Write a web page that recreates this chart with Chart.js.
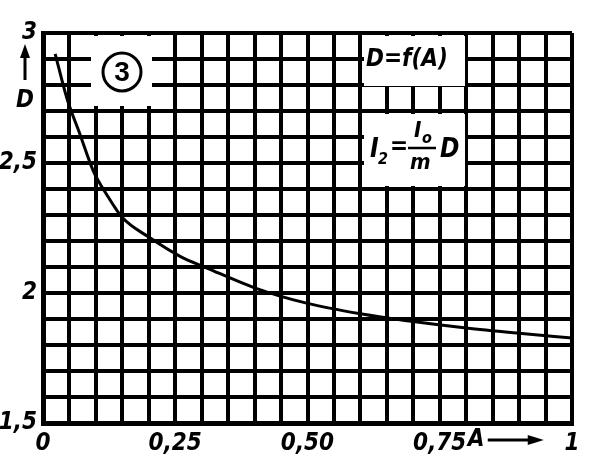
<!DOCTYPE html>
<html>
<head>
<meta charset="utf-8">
<script src="https://cdn.jsdelivr.net/npm/chart.js@4/dist/chart.umd.min.js"></script>
<style>
  html, body { margin: 0; padding: 0; background: #fff; }
  #wrap { width: 592px; height: 464px; position: relative; }
</style>
</head>
<body>
<div id="wrap"><canvas id="c"></canvas></div>
<script>
"use strict";

// D = f(A)
const A_VALUES = [0.023, 0.045, 0.07, 0.095, 0.12, 0.15, 0.2, 0.26, 0.31, 0.4, 0.5, 0.6, 0.7, 0.8, 0.9, 1.0];
const D_VALUES = [2.92, 2.75, 2.61, 2.47, 2.38, 2.29, 2.215, 2.14, 2.096, 2.02, 1.96, 1.92, 1.89, 1.865, 1.845, 1.827];

const X_TICKS = [[0, "0"], [0.25, "0,25"], [0.5, "0,50"], [0.75, "0,75"], [1, "1"]];
const Y_TICKS = [[1.5, "1,5"], [2, "2"], [2.5, "2,5"], [3, "3"]];

const INK = "#000";
const FONT = "'Liberation Sans Narrow', 'DejaVu Sans Condensed', sans-serif";

const pickLabel = (list) => (v) => {
  const hit = list.find(([t]) => Math.abs(t - v) < 1e-6);
  return hit ? hit[1] : "";
};

// white patches where the grid was left blank for the captions
const blanks = {
  id: "blanks",
  beforeDatasetsDraw(chart) {
    const ctx = chart.ctx;
    ctx.save();
    ctx.fillStyle = "#fff";
    ctx.fillRect(91, 36, 61, 70);
    ctx.fillRect(364, 36, 101, 50);
    ctx.fillRect(364, 114, 101, 72);
    ctx.restore();
  },
};

const captions = {
  id: "captions",
  afterDraw(chart) {
    const ctx = chart.ctx;
    const x = chart.scales.x;
    ctx.save();
    ctx.fillStyle = INK;
    ctx.strokeStyle = INK;

    // circled 3
    ctx.lineWidth = 3;
    ctx.beginPath();
    ctx.arc(122, 72, 19, 0, Math.PI * 2);
    ctx.stroke();
    ctx.font = "bold 28px 'Liberation Sans', sans-serif";
    ctx.textAlign = "center";
    ctx.textBaseline = "middle";
    ctx.fillText("3", 122, 73);

    // axis name D with arrow
    ctx.font = "italic bold 24px " + FONT;
    ctx.fillText("D", 25, 101);
    ctx.lineWidth = 3;
    ctx.beginPath();
    ctx.moveTo(25, 80);
    ctx.lineTo(25, 50);
    ctx.stroke();
    ctx.beginPath();
    ctx.moveTo(25, 44);
    ctx.lineTo(20, 58);
    ctx.lineTo(30, 58);
    ctx.closePath();
    ctx.fill();

    // A with arrow after 0,75
    const ay = chart.chartArea.bottom + 17;
    ctx.textAlign = "left";
    ctx.fillText("A", x.getPixelForValue(0.75) + 28, ay);
    ctx.lineWidth = 3;
    ctx.beginPath();
    ctx.moveTo(x.getPixelForValue(0.75) + 48, ay);
    ctx.lineTo(x.getPixelForValue(0.75) + 92, ay);
    ctx.stroke();
    ctx.beginPath();
    ctx.moveTo(x.getPixelForValue(0.75) + 104, ay);
    ctx.lineTo(x.getPixelForValue(0.75) + 88, ay - 5);
    ctx.lineTo(x.getPixelForValue(0.75) + 88, ay + 5);
    ctx.closePath();
    ctx.fill();

    // D=f(A)
    ctx.font = "italic bold 24px " + FONT;
    ctx.textAlign = "left";
    ctx.fillText("D=f(A)", 366, 60);

    // I2 = I0 / m D
    ctx.font = "italic bold 26px " + FONT;
    ctx.fillText("I", 370, 150);
    ctx.font = "italic bold 16px " + FONT;
    ctx.fillText("2", 378, 160);
    ctx.font = "italic bold 24px " + FONT;
    ctx.fillText("=", 390, 148);
    ctx.font = "italic bold 22px " + FONT;
    ctx.fillText("I", 414, 131);
    ctx.font = "italic bold 16px " + FONT;
    ctx.fillText("o", 422, 139);
    ctx.lineWidth = 2.5;
    ctx.beginPath();
    ctx.moveTo(408, 148);
    ctx.lineTo(436, 148);
    ctx.stroke();
    ctx.font = "italic bold 22px " + FONT;
    ctx.fillText("m", 410, 163);
    ctx.font = "italic bold 26px " + FONT;
    ctx.fillText("D", 440, 150);
    ctx.restore();
  },
};

const points = A_VALUES.map((a, i) => ({ x: a, y: D_VALUES[i] }));

new Chart(document.getElementById("c"), {
  type: "line",
  data: {
    datasets: [
      {
        data: points,
        borderColor: INK,
        borderWidth: 3,
        pointRadius: 0,
        fill: false,
        cubicInterpolationMode: "monotone",
      },
    ],
  },
  options: {
    responsive: true,
    maintainAspectRatio: false,
    animation: false,
    events: [],
    layout: { padding: { top: 33, right: 20, left: 0, bottom: 0 } },
    plugins: { legend: { display: false }, tooltip: { enabled: false } },
    scales: {
      x: {
        type: "linear",
        min: 0,
        max: 1,
        afterFit: (s) => { s.height = 41; },
        grid: { color: INK, lineWidth: 4, drawTicks: false },
        border: { color: INK, width: 5 },
        ticks: {
          stepSize: 0.05,
          autoSkip: false,
          maxRotation: 0,
          padding: 6,
          color: INK,
          font: { family: FONT, size: 24, style: "italic", weight: "bold" },
          callback: pickLabel(X_TICKS),
        },
      },
      y: {
        type: "linear",
        min: 1.5,
        max: 3,
        afterFit: (s) => { s.width = 43; },
        grid: { color: INK, lineWidth: 4, drawTicks: false },
        border: { color: INK, width: 5 },
        ticks: {
          stepSize: 0.1,
          autoSkip: false,
          padding: 6,
          color: INK,
          font: { family: FONT, size: 24, style: "italic", weight: "bold" },
          callback: pickLabel(Y_TICKS),
        },
      },
    },
  },
  plugins: [blanks, captions],
});
</script>
</body>
</html>
